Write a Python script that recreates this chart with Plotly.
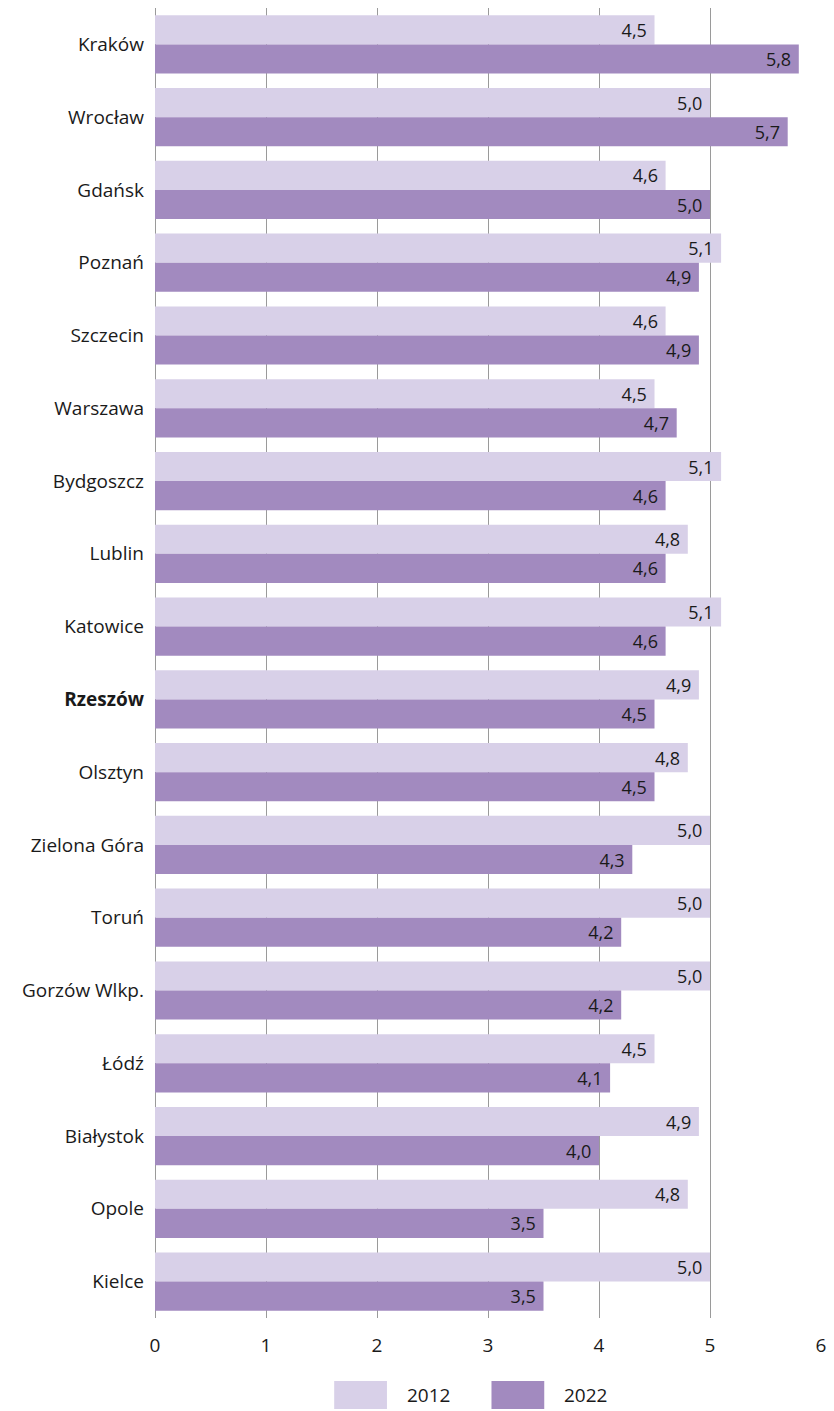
import plotly.graph_objects as go

cities = ["Kraków", "Wrocław", "Gdańsk", "Poznań", "Szczecin", "Warszawa", "Bydgoszcz",
          "Lublin", "Katowice", "Rzeszów", "Olsztyn", "Zielona Góra", "Toruń",
          "Gorzów Wlkp.", "Łódź", "Białystok", "Opole", "Kielce"]
v2012 = [4.5, 5.0, 4.6, 5.1, 4.6, 4.5, 5.1, 4.8, 5.1, 4.9, 4.8, 5.0, 5.0, 5.0, 4.5, 4.9, 4.8, 5.0]
v2022 = [5.8, 5.7, 5.0, 4.9, 4.9, 4.7, 4.6, 4.6, 4.6, 4.5, 4.5, 4.3, 4.2, 4.2, 4.1, 4.0, 3.5, 3.5]
series_names = ["2012", "2022"]
x_ticks = [0, 1, 2, 3, 4, 5, 6]

C_LIGHT = "#D8D0E8"
C_DARK = "#A28ABF"
FONT = "Open Sans"
TXT = "#1a1a1a"

def fmt(v):
    return f"{v:.1f}".replace(".", ",") + "\u00a0"

ticktext = [f"<b>{c}</b>" if c == "Rzeszów" else c for c in cities]

fig = go.Figure()
for name, vals, col in [(series_names[0], v2012, C_LIGHT), (series_names[1], v2022, C_DARK)]:
    fig.add_trace(go.Bar(
        y=cities, x=vals, orientation="h", name=name,
        marker=dict(color=col, line=dict(width=0)),
        text=[fmt(v) for v in vals], textposition="inside", insidetextanchor="end",
        textfont=dict(family=FONT, size=18, color=TXT),
        textangle=0, showlegend=False, hoverinfo="skip",
    ))

fig.update_layout(
    width=834, height=1411,
    margin=dict(l=155, r=10, t=8, b=93),
    paper_bgcolor="white", plot_bgcolor="white",
    barmode="group", bargap=0.2, bargroupgap=0,
    font=dict(family=FONT, size=19, color=TXT),
    uniformtext=dict(minsize=18, mode="show"),
    xaxis=dict(range=[0, 6], tickvals=x_ticks, ticktext=[str(t) for t in x_ticks],
               showgrid=True, gridcolor="#9a9a9a", gridwidth=1,
               zeroline=True, zerolinecolor="#9a9a9a", zerolinewidth=1,
               showline=False, ticks="", ticklabelstandoff=14,
               tickfont=dict(family=FONT, size=19, color=TXT), fixedrange=True),
    yaxis=dict(categoryorder="array", categoryarray=cities, autorange="reversed",
               tickvals=cities, ticktext=ticktext, ticks="", showgrid=False,
               ticklabelstandoff=10, fixedrange=True,
               tickfont=dict(family=FONT, size=19, color=TXT)),
)

# custom legend at bottom
plot_w = 834 - 155 - 10
plot_h = 1411 - 8 - 93
legend_items = [(series_names[0], C_LIGHT, (335 - 155) / plot_w), (series_names[1], C_DARK, (493 - 155) / plot_w)]
for name, col, x0 in legend_items:
    fig.add_shape(type="rect", xref="paper", yref="paper",
                  x0=x0, x1=x0 + 53 / plot_w,
                  y0=-(1409 - 1318) / plot_h, y1=-(1381 - 1318) / plot_h,
                  fillcolor=col, line=dict(width=0))
    fig.add_annotation(xref="paper", yref="paper", x=x0 + 71 / plot_w, y=-(1395 - 1318) / plot_h,
                       text=name, showarrow=False, xanchor="left", yanchor="middle",
                       font=dict(family=FONT, size=19, color=TXT))

fig.write_html("out.html", config={"displayModeBar": False},
               post_script="document.body.style.margin='0';document.body.style.overflow='hidden';")
